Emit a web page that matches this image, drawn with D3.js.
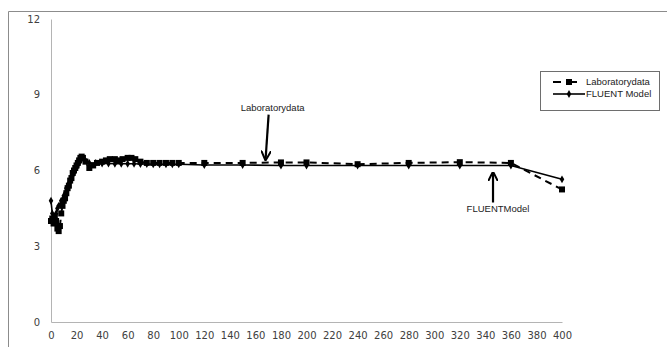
<!DOCTYPE html>
<html>
<head>
<meta charset="utf-8">
<script src="https://cdn.jsdelivr.net/npm/d3@7"></script>
<style>
  body { margin: 0; background: #fff; }
  svg { display: block; }
</style>
</head>
<body>
<script>
// Laboratory data (dashed, square markers)
var labX = [0, 1, 2, 3, 4, 5, 6, 7, 8, 9, 10, 11, 12, 13, 14, 15, 16, 17, 18, 19, 20,
            21, 22, 23, 24, 25, 27, 30, 33, 36, 40, 43, 46, 50, 53, 56, 60, 63, 66, 70,
            75, 80, 85, 90, 95, 100, 120, 150, 180, 200, 240, 280, 320, 360, 400];
var labY = [4.0, 4.1, 3.9, 4.2, 4.0, 3.7, 3.6, 3.8, 4.3, 4.6, 4.8, 4.9, 5.1, 5.3, 5.4, 5.6, 5.7, 5.9, 6.0, 6.1, 6.2,
            6.3, 6.4, 6.5, 6.55, 6.5, 6.35, 6.1, 6.2, 6.3, 6.35, 6.4, 6.45, 6.45, 6.4, 6.45, 6.5, 6.5, 6.45, 6.35,
            6.3, 6.3, 6.3, 6.3, 6.3, 6.3, 6.3, 6.3, 6.32, 6.32, 6.25, 6.3, 6.33, 6.3, 5.25];

// FLUENT model (solid, small diamond markers)
var fluentX = [0, 1, 2, 3, 4, 5, 6, 8, 10, 12, 14, 16, 18, 20, 22, 24, 26, 28, 30, 35,
               40, 45, 50, 55, 60, 65, 70, 75, 80, 85, 90, 95, 100, 120, 150, 180, 200, 240,
               280, 320, 360, 400];
var fluentY = [4.8, 4.3, 4.0, 4.1, 4.3, 4.5, 4.6, 4.8, 5.0, 5.3, 5.5, 5.7, 5.9, 6.1, 6.3, 6.45, 6.45, 6.35, 6.3, 6.3,
               6.28, 6.28, 6.27, 6.27, 6.27, 6.27, 6.26, 6.26, 6.25, 6.25, 6.25, 6.25, 6.25, 6.22, 6.22, 6.2, 6.2, 6.2,
               6.2, 6.2, 6.2, 5.65];

var seriesNames = ["Laboratorydata", "FLUENT Model"];
var yTicks = [0, 3, 6, 9, 12];
var xTicks = [0, 20, 40, 60, 80, 100, 120, 140, 160, 180, 200, 220, 240, 260, 280, 300, 320, 340, 360, 380, 400];

// arrow annotations: label, x, y the arrow points at
var noteLabels = ["Laboratorydata", "FLUENTModel"];
var noteX = [168, 346];
var noteY = [6.35, 6.0];

var width = 667, height = 347;

var x = d3.scaleLinear().domain([0, 400]).range([51, 562]);
var y = d3.scaleLinear().domain([0, 12]).range([322, 19]);

var svg = d3.select("body").append("svg")
    .attr("width", width)
    .attr("height", height);

svg.append("rect").attr("width", width).attr("height", height).attr("fill", "#fff");

// chart frame (only left and top edges show)
svg.append("path")
    .attr("d", "M8.5," + height + "V11.5H" + width)
    .attr("fill", "none")
    .attr("stroke", "#8c8c8c");

var tickFont = "'DejaVu Sans', Verdana, sans-serif";

var yAxis = svg.append("g")
    .attr("transform", "translate(" + x(0) + ",0)")
    .call(d3.axisLeft(y).tickValues(yTicks).tickSize(0).tickSizeOuter(0).tickPadding(11));
yAxis.select(".domain").attr("stroke", "#b4b4b4");
yAxis.selectAll("text").attr("fill", "#404040").style("font", "10px " + tickFont);

var xAxis = svg.append("g")
    .attr("transform", "translate(0," + y(0) + ")")
    .call(d3.axisBottom(x).tickValues(xTicks).tickSize(0).tickSizeOuter(0).tickPadding(10));
xAxis.select(".domain").attr("stroke", "#b4b4b4");
xAxis.selectAll("text").attr("fill", "#404040").style("font", "10px " + tickFont);

var lab = labX.map(function(d, i) { return [d, labY[i]]; });
var fluent = fluentX.map(function(d, i) { return [d, fluentY[i]]; });

var line = d3.line()
    .x(function(d) { return x(d[0]); })
    .y(function(d) { return y(d[1]); });

svg.append("path")
    .datum(lab)
    .attr("d", line)
    .attr("fill", "none")
    .attr("stroke", "#000")
    .attr("stroke-width", 2)
    .attr("stroke-dasharray", "7,5");

svg.append("path")
    .datum(fluent)
    .attr("d", line)
    .attr("fill", "none")
    .attr("stroke", "#000")
    .attr("stroke-width", 1.6);

svg.selectAll(".lab-pt")
    .data(lab)
  .enter().append("rect")
    .attr("class", "lab-pt")
    .attr("x", function(d) { return x(d[0]) - 3; })
    .attr("y", function(d) { return y(d[1]) - 3; })
    .attr("width", 6)
    .attr("height", 6)
    .attr("fill", "#000");

var diamond = d3.symbol().type(d3.symbolDiamond).size(18);
svg.selectAll(".fl-pt")
    .data(fluent)
  .enter().append("path")
    .attr("class", "fl-pt")
    .attr("transform", function(d) { return "translate(" + x(d[0]) + "," + y(d[1]) + ")"; })
    .attr("d", diamond)
    .attr("fill", "#000");

// arrows
var defs = svg.append("defs");
defs.append("marker")
    .attr("id", "head")
    .attr("viewBox", "0 0 10 10")
    .attr("refX", 8).attr("refY", 5)
    .attr("markerWidth", 4.5).attr("markerHeight", 4.5)
    .attr("orient", "auto")
  .append("path")
    .attr("d", "M0,0L10,5L0,10")
    .attr("fill", "none")
    .attr("stroke", "#000")
    .attr("stroke-width", 2);

var noteFont = "'Liberation Sans Narrow', 'Liberation Sans', Arial, sans-serif";

// Laboratory data arrow comes from above
svg.append("line")
    .attr("x1", x(noteX[0]) + 3).attr("y1", y(noteY[0]) - 47)
    .attr("x2", x(noteX[0])).attr("y2", y(noteY[0]) - 3)
    .attr("stroke", "#000").attr("stroke-width", 2.2)
    .attr("marker-end", "url(#head)");
svg.append("text")
    .attr("x", x(noteX[0]) + 7).attr("y", y(noteY[0]) - 51)
    .attr("text-anchor", "middle")
    .style("font", "9.5px " + noteFont)
    .attr("fill", "#222")
    .text(noteLabels[0]);

// FLUENT arrow comes from below
svg.append("line")
    .attr("x1", x(noteX[1])).attr("y1", y(noteY[1]) + 32)
    .attr("x2", x(noteX[1])).attr("y2", y(noteY[1]) + 3)
    .attr("stroke", "#000").attr("stroke-width", 2.2)
    .attr("marker-end", "url(#head)");
svg.append("text")
    .attr("x", x(noteX[1]) + 5).attr("y", y(noteY[1]) + 41)
    .attr("text-anchor", "middle")
    .style("font", "9.5px " + noteFont)
    .attr("fill", "#222")
    .text(noteLabels[1]);

// legend
var legend = svg.append("g").attr("transform", "translate(540,71)");
legend.append("rect")
    .attr("x", 0.5).attr("y", 0.5)
    .attr("width", 119).attr("height", 39)
    .attr("fill", "#fff")
    .attr("stroke", "#6e6e6e");

var rows = legend.selectAll(".row")
    .data(seriesNames)
  .enter().append("g")
    .attr("class", "row")
    .attr("transform", function(d, i) { return "translate(0," + (11 + i * 12) + ")"; });

rows.append("line")
    .attr("x1", 13).attr("x2", 45)
    .attr("stroke", "#000")
    .attr("stroke-width", function(d, i) { return i === 0 ? 2 : 1.6; })
    .attr("stroke-dasharray", function(d, i) { return i === 0 ? "8,8" : null; });

rows.filter(function(d, i) { return i === 0; }).append("rect")
    .attr("x", 26).attr("y", -3).attr("width", 6).attr("height", 6).attr("fill", "#000");
rows.filter(function(d, i) { return i === 1; }).append("path")
    .attr("transform", "translate(29,0)")
    .attr("d", diamond)
    .attr("fill", "#000");

rows.append("text")
    .attr("x", 46).attr("dy", "0.35em")
    .style("font", "9.5px " + noteFont)
    .attr("fill", "#222")
    .text(function(d) { return d; });
</script>
</body>
</html>
